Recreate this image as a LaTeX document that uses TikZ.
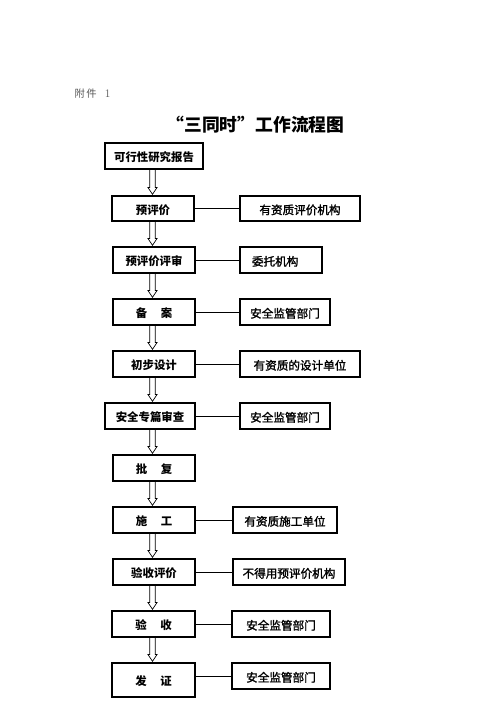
\documentclass[tikz,border=0pt]{standalone}
\usepackage{fontspec}
\usetikzlibrary{calc}
\newfontfamily\cjk{Noto Sans CJK SC}
\newfontfamily\cjkmid{Noto Sans CJK SC}[FakeBold=1.6]
\definecolor{annexgray}{RGB}{85,85,85}
\tikzset{
  lbox/.style={draw=black,line width=1.1pt,minimum height=26pt,inner sep=0pt,
    font=\cjk\bfseries\fontsize{11.4}{13}\selectfont,text height=11.5pt,text depth=0pt},
  rbox/.style={draw=black,line width=1.1pt,minimum height=26pt,inner sep=0pt,
    font=\cjkmid\fontsize{11.6}{13}\selectfont,text height=11.5pt,text depth=0pt},
  link/.style={draw=black,line width=0.8pt},
  arr/.style={draw=black,line width=0.7pt,line join=miter},
}
\newcommand\flowarrow[2]{%
  \draw[arr] ($(#1.south -| ax)+(-2.8,0)$) -- ($(#2.north -| ax)+(-2.8,-8)$)
    -- ($(#2.north -| ax)+(-4.6,-8)$) -- ($(#2.north -| ax)+(0,-1.2)$)
    -- ($(#2.north -| ax)+(4.6,-8)$) -- ($(#2.north -| ax)+(2.8,-8)$)
    -- ($(#1.south -| ax)+(2.8,0)$);}
\begin{document}
\begin{tikzpicture}[x=1pt,y=-1pt]
\useasboundingbox (0,0) rectangle (496,702);
\coordinate (ax) at (152.5,0);
% header
\node[anchor=west,text=annexgray,inner sep=0pt,font=\cjk\fontsize{10.3}{12}\selectfont] (annex) at (74.5,93.5) {附\hspace{1.5pt}件\hspace{8pt}{\rmfamily\fontsize{11.5}{12}\selectfont 1}};
\node[inner sep=0pt,font=\cjk\bfseries\fontsize{17.8}{20}\selectfont] (title) at (255.5,124.5) {“三同时”工作流程图};
% left column
\node[lbox,minimum width=98pt] (n1) at (154,156) {可行性研究报告};
\node[lbox,minimum width=82pt,minimum height=25pt] (n2) at (153,208.5) {预评价};
\node[lbox,minimum width=82pt] (n3) at (154,260) {预评价评审};
\node[lbox,minimum width=82pt] (n4) at (154,312) {备\hspace{1.2em}案};
\node[lbox,minimum width=82pt] (n5) at (154,364) {初步设计};
\node[lbox,minimum width=90pt] (n6) at (150,416) {安全专篇审查};
\node[lbox,minimum width=82pt] (n7) at (154,468) {批\hspace{1.2em}复};
\node[lbox,minimum width=82pt] (n8) at (154,520) {施\hspace{1.2em}工};
\node[lbox,minimum width=82pt] (n9) at (154,572) {验收评价};
\node[lbox,minimum width=83pt] (n10) at (153.5,624) {验\hspace{1.2em}收};
\node[lbox,minimum width=83pt,minimum height=34pt] (n11) at (153.5,680) {发\hspace{1.2em}证};
% right column
\node[rbox,minimum width=120pt,minimum height=25pt] (r2) at (300,208.5) {有资质评价机构};
\node[rbox,minimum width=82pt,text width=58pt,align=left] (r3) at (281,260) {委托机构};
\node[rbox,minimum width=90pt] (r4) at (285,312) {安全监管部门};
\node[rbox,minimum width=120pt] (r5) at (300,364) {有资质的设计单位};
\node[rbox,minimum width=90pt] (r6) at (285,416) {安全监管部门};
\node[rbox,minimum width=104pt] (r8) at (285,520) {有资质施工单位};
\node[rbox,minimum width=112pt] (r9) at (289,572) {不得用预评价机构};
\node[rbox,minimum width=98pt] (r10) at (281,624) {安全监管部门};
\node[rbox,minimum width=98pt] (r11) at (281,676) {安全监管部门};
% arrows
\flowarrow{n1}{n2}
\flowarrow{n2}{n3}
\flowarrow{n3}{n4}
\flowarrow{n4}{n5}
\flowarrow{n5}{n6}
\flowarrow{n6}{n7}
\flowarrow{n7}{n8}
\flowarrow{n8}{n9}
\flowarrow{n9}{n10}
\flowarrow{n10}{n11}
% links
\draw[link] (n2.east) -- (r2.west);
\draw[link] (n3.east) -- (r3.west);
\draw[link] (n4.east) -- (r4.west);
\draw[link] (n5.east) -- (r5.west);
\draw[link] (n6.east) -- (r6.west);
\draw[link] (n8.east) -- (r8.west);
\draw[link] (n9.east) -- (r9.west);
\draw[link] (n10.east) -- (r10.west);
\draw[link] (n11.east |- r11.west) -- (r11.west);
\end{tikzpicture}
\end{document}
